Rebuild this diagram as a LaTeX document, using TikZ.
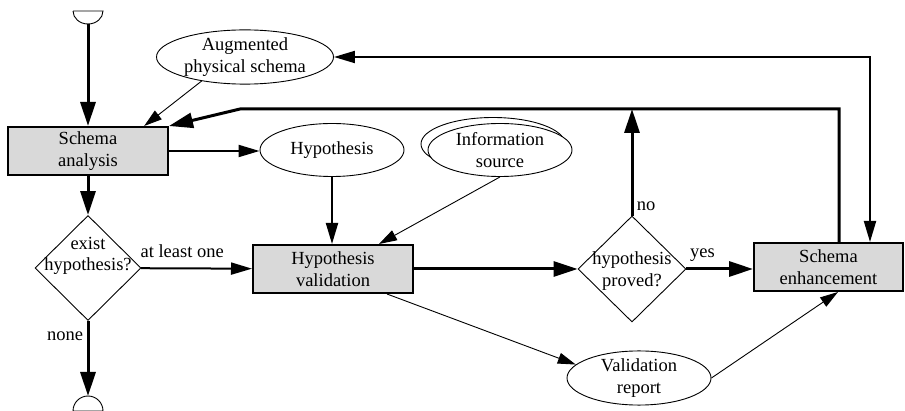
\documentclass[tikz,border=0pt]{standalone}
\usepackage{fontspec}
\setmainfont{Liberation Serif}
\usetikzlibrary{arrows.meta,shapes.geometric,shadows}

\begin{document}
\begin{tikzpicture}[x=1pt, y=-1pt,
		every node/.style={font=\fontsize{18.5}{21.5}\selectfont},
		procbox/.style={draw, line width=2pt, fill=black!15, align=center, minimum width=160pt, minimum height=48pt, inner sep=0pt},
		datanode/.style={draw, ellipse, fill=white, line width=0.9pt, align=center, minimum width=144pt, minimum height=53pt, inner sep=0pt},
		testnode/.style={draw, diamond, line width=0.9pt, inner sep=0pt, minimum width=106pt, minimum height=105pt},
		thickarrow/.style={line width=3pt, >={Triangle[length=24pt,width=15pt]}, ->},
		medarrow/.style={line width=2pt, >={Triangle[length=21pt,width=12pt]}, ->},
		thinarrow/.style={line width=0.9pt, >={Triangle[length=18pt,width=11pt]}, ->}]
		\useasboundingbox (0,0) rectangle (905,411);
		\coordinate (begin) at (88,24);
		\coordinate (finish) at (88,396);
		\coordinate (loopbend) at (240,109);
		\draw[line width=0.9pt] (73,11) -- (103,11) arc[start angle=0, end angle=180, x radius=15, y radius=13];
		\draw[line width=0.9pt] (73,411) -- (103,411) arc[start angle=0, end angle=-180, x radius=15, y radius=15];
		\node[procbox] (analysis) at (88,151) {Schema\\analysis};
		\node[procbox] (hv) at (333,269) {Hypothesis\\validation};
		\node[procbox, minimum width=149pt] (enhance) at (828.5,267) {Schema\\enhancement};
		\node[datanode, minimum width=177pt] (augmented) at (245,57) {Augmented\\physical schema};
		\node[datanode] (hypo) at (332,150) {Hypothesis};
		\node[datanode, copy shadow={shadow xshift=-7pt, shadow yshift=6pt}] (info) at (500,150) {Information\\source};
		\node[datanode] (report) at (639,378) {Validation\\report};
		\node[testnode, label={[align=center, yshift=12pt]center:exist\\hypothesis?}] (exist) at (88,268) {};
		\node[testnode, minimum width=108pt, minimum height=106pt, label={[align=center, yshift=-2pt]center:hypothesis\\proved?}] (proved) at (632,269) {};
		\draw[thickarrow] (begin) -- (analysis);
		\draw[thinarrow] (augmented.209) -- (analysis.24);
		\draw[thickarrow] ([xshift=10.5pt]enhance.north) |- (loopbend) -- (analysis.north east);
		\draw[thickarrow] (proved.north) -- (proved.north |- loopbend) node[pos=0.09, right] {no};
		\draw[medarrow, <->] (augmented.east) -| ([xshift=41.5pt]enhance.north);
		\draw[medarrow] (analysis.east) -- (analysis.east -| hypo.west);
		\draw[medarrow] (hypo.south) -- (hypo.south |- hv.north);
		\draw[thinarrow] (info.south) -- ([xshift=-35pt]hv.north east);
		\draw[thickarrow] (analysis) -- (exist);
		\draw[medarrow] (exist) -- (hv) node[pos=0.37, above=6pt] {at least one};
		\draw[thickarrow] (exist) -- (finish) node[pos=0.2, left] {none};
		\draw[thickarrow] (hv) -- (proved);
		\draw[thickarrow] (proved.east) -- (proved.east -| enhance.west) node[pos=0.24, above=3pt] {yes};
		\draw[thinarrow] ([xshift=-27pt]hv.south east) -- (report.168);
		\draw[thinarrow] (report.east) -- ([xshift=9.5pt]enhance.south);
\end{tikzpicture}
\end{document}
